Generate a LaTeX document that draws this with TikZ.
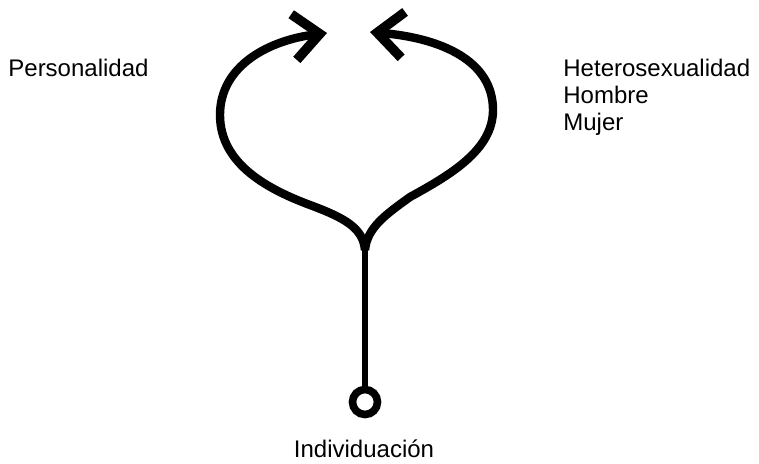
\documentclass[tikz,border=0pt]{standalone}
\usepackage{fontspec}
\setmainfont{Liberation Sans}
\usetikzlibrary{arrows.meta}

\tikzset{
  rama/.style={line width=4.2pt, -{Straight Barb[length=13pt, width=23pt, line width=4.8pt]}},
  tallo/.style={line width=3.3pt},
  anillo/.style={circle, draw, line width=3.8pt, minimum size=12.5pt, inner sep=0pt},
  etiqueta/.style={font=\fontsize{12pt}{14pt}\selectfont, inner sep=0pt}
}

\begin{document}
\begin{tikzpicture}[x=0.5pt, y=-0.5pt]
        \useasboundingbox (0,0) rectangle (759,463);

        % Origen y tallo
        \node[anillo] (ori) at (365,402) {};
        \coordinate (junc) at (365,250);
        \coordinate (tipL) at (327,33);
        \coordinate (tipR) at (370,32);
        \draw[tallo] (ori.north) -- (junc);

        % Ramas con flechas
        \draw[rama] (junc) .. controls (363,228) and (345,218) .. (310,205)
                .. controls (270,190) and (220,165) .. (220,115)
                .. controls (220,65) and (270,40) .. (tipL);
        \draw[rama] (junc) .. controls (367,228) and (385,215) .. (410,197)
                .. controls (450,175) and (493,150) .. (493,110)
                .. controls (493,60) and (440,38) .. (tipR);

        % Textos
        \node[etiqueta, anchor=base west] (pers) at (8,76) {Personalidad};
        \node[etiqueta, anchor=base west] (het) at (563,76) {Heterosexualidad};
        \node[etiqueta, anchor=base west] (hom) at (563,103) {Hombre};
        \node[etiqueta, anchor=base west] (muj) at (563,130) {Mujer};
        \node[etiqueta, anchor=base] (indiv) at (364,457) {Individuación};
    \end{tikzpicture}
\end{document}
